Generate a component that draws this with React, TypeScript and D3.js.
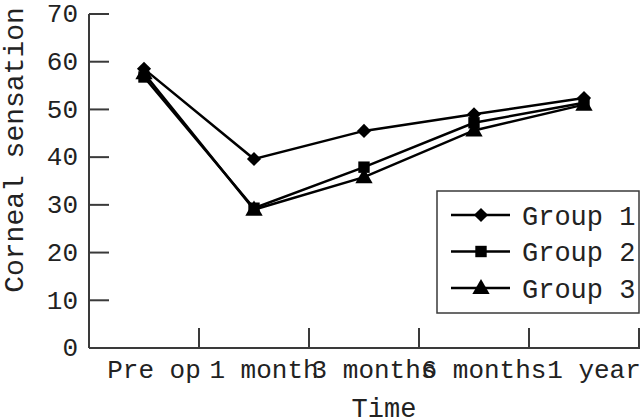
import React, { useEffect, useRef } from 'react';
import * as d3 from 'd3';

const timePoints = ['Pre op', '1 month', '3 months', '6 months', '1 year'];
const group1 = [58.5, 39.6, 45.5, 49.0, 52.4];
const group2 = [56.8, 29.3, 37.9, 47.2, 51.4];
const group3 = [57.6, 29.0, 35.8, 45.6, 51.0];
const groupNames = ['Group 1', 'Group 2', 'Group 3'];
const yTicks = [0, 10, 20, 30, 40, 50, 60, 70];

const FONT = '"Liberation Mono", "DejaVu Sans Mono", monospace';

const App = () => {
  const svgRef = useRef<SVGSVGElement>(null);

  useEffect(() => {
    const svg = d3.select(svgRef.current);
    svg.selectAll('*').remove();

    const width = 640;
    const height = 419;
    const left = 89;
    const right = 639;
    const top = 14;
    const bottom = 348;
    const axisColor = '#3a3a3a';

    const x = d3.scaleBand().domain(timePoints).range([left, right]);
    const y = d3.scaleLinear().domain([0, 70]).range([bottom, top]);
    const cx = (d: string) => (x(d) as number) + x.bandwidth() / 2;

    svg.attr('width', width).attr('height', height);

    // axes
    svg.append('line')
      .attr('x1', left).attr('x2', left).attr('y1', top).attr('y2', bottom)
      .attr('stroke', axisColor).attr('stroke-width', 2);
    svg.append('line')
      .attr('x1', left).attr('x2', right + 1).attr('y1', bottom).attr('y2', bottom)
      .attr('stroke', axisColor).attr('stroke-width', 2);

    // y ticks
    yTicks.forEach(t => {
      svg.append('line')
        .attr('x1', left).attr('x2', left + 20).attr('y1', y(t)).attr('y2', y(t))
        .attr('stroke', axisColor).attr('stroke-width', 2);
      svg.append('text')
        .attr('x', 78).attr('y', y(t))
        .attr('dy', '0.32em')
        .attr('text-anchor', 'end')
        .attr('font-family', FONT).attr('font-size', 26)
        .attr('fill', '#222')
        .text(t);
    });

    // x ticks (at band boundaries)
    timePoints.forEach(tp => {
      const bx = (x(tp) as number) + x.bandwidth();
      svg.append('line')
        .attr('x1', bx).attr('x2', bx).attr('y1', bottom).attr('y2', bottom - 20)
        .attr('stroke', axisColor).attr('stroke-width', 2);
      svg.append('text')
        .attr('x', cx(tp) + 10).attr('y', 378)
        .attr('text-anchor', 'middle')
        .attr('font-family', FONT).attr('font-size', 26)
        .attr('fill', '#222')
        .text(tp);
    });

    // axis titles
    svg.append('text')
      .attr('x', 384).attr('y', 417)
      .attr('text-anchor', 'middle')
      .attr('font-family', FONT).attr('font-size', 27)
      .attr('fill', '#222')
      .text('Time');
    svg.append('text')
      .attr('transform', 'translate(23,150) rotate(-90)')
      .attr('text-anchor', 'middle')
      .attr('font-family', FONT).attr('font-size', 28)
      .attr('fill', '#222')
      .text('Corneal sensation');

    // diamond = square turned 45 degrees
    const symbols = [d3.symbolSquare, d3.symbolSquare, d3.symbolTriangle];
    const sizes = [100, 130, 130];
    const rot = [45, 0, 0];
    const shift = [0, 0, 1];
    const series = [group1, group2, group3];

    const line = d3.line<number>()
      .x((d, i) => cx(timePoints[i]))
      .y(d => y(d));

    series.forEach(vals => {
      svg.append('path')
        .datum(vals)
        .attr('d', line)
        .attr('fill', 'none')
        .attr('stroke', '#000')
        .attr('stroke-width', 2.5);
    });

    series.forEach((vals, s) => {
      const sym = d3.symbol().type(symbols[s]).size(sizes[s]);
      svg.selectAll(null)
        .data(vals)
        .enter()
        .append('path')
        .attr('d', sym)
        .attr('transform', (d, i) => `translate(${cx(timePoints[i])},${y(d) + shift[s]}) rotate(${rot[s]})`)
        .attr('fill', '#000');
    });

    // legend
    const lg = svg.append('g');
    lg.append('rect')
      .attr('x', 437).attr('y', 191).attr('width', 202).attr('height', 122)
      .attr('fill', '#fff').attr('stroke', axisColor).attr('stroke-width', 1.5);
    groupNames.forEach((name, i) => {
      const ry = 215 + i * 36.5;
      lg.append('line')
        .attr('x1', 451).attr('x2', 510).attr('y1', ry).attr('y2', ry)
        .attr('stroke', '#000').attr('stroke-width', 2.5);
      lg.append('path')
        .attr('d', d3.symbol().type(symbols[i]).size(sizes[i])())
        .attr('transform', `translate(481,${ry + shift[i]}) rotate(${rot[i]})`)
        .attr('fill', '#000');
      lg.append('text')
        .attr('x', 522).attr('y', ry)
        .attr('dy', '0.36em')
        .attr('font-family', FONT).attr('font-size', 27)
        .attr('fill', '#222')
        .text(name);
    });
  }, []);

  return (
    <svg ref={svgRef} style={{ position: 'absolute', left: 0, top: 0, background: '#fff' }} />
  );
};

export default App;
